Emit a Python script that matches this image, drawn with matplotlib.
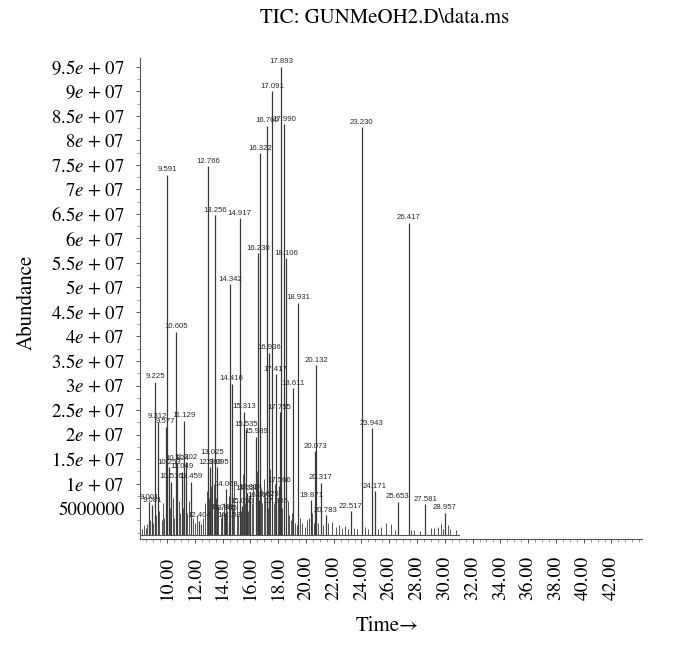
import numpy as np
import matplotlib
matplotlib.use("Agg")
import matplotlib.pyplot as plt

# labelled peaks: retention-time label, position on the time axis, height (x 1e6)
peak_labels = ["9.001", "9.081", "9.225", "9.312", "9.577", "9.591", "10.253", "10.516",
               "10.605", "10.824", "11.049", "11.129", "11.202", "11.459", "12.404", "12.766",
               "12.960", "13.025", "13.256", "13.095", "13.748", "13.885", "14.069", "14.158",
               "14.342", "14.416", "14.917", "15.050", "15.313", "15.535", "15.626", "15.814",
               "15.989", "16.096", "16.230", "16.322", "16.625", "16.760", "16.936", "17.091",
               "17.205", "17.417", "17.566", "17.755", "17.893", "17.990", "18.106", "18.611",
               "18.931", "19.871", "20.073", "20.132", "20.317", "20.783", "22.517", "23.230",
               "23.943", "24.171", "25.653", "26.417", "27.581", "28.957"]
peak_time = [8.70, 8.92, 9.14, 9.32, 9.89, 10.02, 10.12, 10.29,
             10.63, 10.72, 11.08, 11.23, 11.35, 11.71, 12.31, 12.95,
             13.08, 13.22, 13.46, 13.60, 13.98, 14.20, 14.23, 14.45,
             14.55, 14.65, 15.24, 15.40, 15.55, 15.67, 15.78, 16.00,
             16.39, 16.63, 16.58, 16.68, 17.21, 17.18, 17.35, 17.55,
             17.83, 17.83, 18.07, 18.10, 18.19, 18.45, 18.58, 19.10,
             19.46, 20.36, 20.67, 20.76, 21.05, 21.44, 23.22, 24.03,
             24.75, 24.97, 26.60, 27.39, 28.59, 30.00]
peak_height = [6.2, 5.6, 30.8, 22.6, 21.6, 73.0, 13.4, 10.4,
               41.0, 14.2, 12.4, 22.8, 14.4, 10.4, 2.4, 74.7,
               13.4, 15.3, 64.8, 13.4, 4.2, 4.0, 8.8, 2.4,
               50.7, 30.4, 64.1, 5.4, 24.7, 21.1, 8.0, 8.3,
               19.6, 6.6, 57.0, 77.4, 6.8, 83.0, 36.7, 90.0,
               5.4, 32.3, 9.6, 24.5, 95.0, 83.3, 56.0, 29.4,
               46.9, 6.6, 16.6, 34.2, 10.2, 3.6, 4.4, 82.7,
               21.3, 8.5, 6.3, 63.2, 5.8, 4.1]

# unlabelled small peaks (time, height x 1e6)
minor_time = [8.20, 8.32, 8.45, 8.58, 8.80, 9.02, 9.22, 9.45, 9.60, 9.72, 9.80,
              10.20, 10.40, 10.50, 10.85, 10.95, 11.15, 11.45, 11.55, 11.85, 12.00,
              12.15, 12.45, 12.60, 12.72, 12.85, 13.00, 13.15, 13.35, 13.52, 13.70,
              13.85, 14.10, 14.35, 14.45, 14.75, 14.85, 15.00, 15.12, 15.30, 15.45,
              15.60, 15.85, 15.92, 16.10, 16.20, 16.47, 16.75, 16.85, 16.95, 17.05,
              17.28, 17.40, 17.68, 17.75, 18.00, 18.30, 18.70, 18.80, 18.90, 19.00,
              19.20, 19.35, 19.60, 19.75, 19.90, 20.05, 20.20, 20.47, 20.58, 20.90,
              21.20, 21.62, 21.91, 22.15, 22.40, 22.60, 22.80, 23.00, 23.45, 23.70,
              24.25, 24.45, 25.20, 25.40, 25.80, 26.12, 26.40, 27.55, 27.80, 28.20,
              29.00, 29.24, 29.48, 29.73, 29.90, 30.20, 30.35, 30.80]
minor_height = [0.8, 1.5, 0.9, 1.8, 2.5, 2.0, 3.5, 4.5, 2.5, 6.0, 3.0,
                5.0, 7.0, 3.0, 6.5, 4.0, 5.0, 4.0, 6.5, 3.0, 2.0,
                3.5, 1.8, 3.0, 6.0, 8.5, 7.0, 9.5, 10.0, 7.0, 5.5,
                3.0, 6.0, 4.5, 7.5, 5.0, 10.5, 6.5, 3.5, 4.5, 12.0,
                6.0, 4.5, 7.5, 6.0, 10.0, 12.5, 9.0, 6.0, 11.0, 7.5,
                5.0, 13.0, 6.0, 10.0, 7.0, 5.0, 6.5, 3.5, 2.5, 4.0,
                2.0, 1.5, 3.0, 2.0, 1.2, 2.5, 3.0, 4.0, 2.0, 2.0,
                1.5, 2.0, 2.1, 1.2, 1.5, 1.0, 1.3, 0.8, 1.0, 0.8,
                1.2, 0.8, 0.7, 1.2, 2.0, 1.8, 0.6, 0.6, 0.5, 0.4,
                1.0, 1.0, 1.2, 1.7, 0.8, 1.5, 0.8, 0.5]

ytick_vals = [5e6, 1e7, 1.5e7, 2e7, 2.5e7, 3e7, 3.5e7, 4e7, 4.5e7, 5e7,
              5.5e7, 6e7, 6.5e7, 7e7, 7.5e7, 8e7, 8.5e7, 9e7, 9.5e7]
ytick_text = ["5000000", "1e + 07", "1.5e + 07", "2e + 07", "2.5e + 07", "3e + 07",
              "3.5e + 07", "4e + 07", "4.5e + 07", "5e + 07", "5.5e + 07", "6e + 07",
              "6.5e + 07", "7e + 07", "7.5e + 07", "8e + 07", "8.5e + 07", "9e + 07",
              "9.5e + 07"]
xtick_vals = list(range(10, 44, 2))

plt.rcParams['mathtext.fontset'] = 'stix'
plt.rcParams['font.family'] = 'STIXGeneral'

fig = plt.figure(figsize=(6.84, 6.47), dpi=100)
ax = fig.add_axes([140/684, 1 - 539/647, (642 - 140)/684, (539 - 58)/647])

base = -0.5e6
line_col = '#3a3a3a'
ax.vlines(minor_time, base, np.array(minor_height) * 1e6, color='#555555', lw=0.7)
ax.vlines(peak_time, base, np.array(peak_height) * 1e6, color=line_col, lw=0.9)
ax.plot([8.1, 31.0], [base, base], color='#555555', lw=0.8)

for lbl, t, h in zip(peak_labels, peak_time, peak_height):
    ax.annotate(lbl, (t, h * 1e6), xytext=(0, 1), textcoords='offset points',
                ha='center', va='bottom', fontsize=5.6, family='Liberation Sans',
                color='#2a2a2a')

ax.set_xlim(8.05, 44.2)
ax.set_ylim(-1.3e6, 96.8e6)

ax.set_xticks(xtick_vals)
ax.set_xticklabels([f"{v:.2f}" for v in xtick_vals], rotation=90, fontsize=14)
ax.set_xticks(np.arange(8.5, 44.1, 0.5), minor=True)
ax.set_yticks(ytick_vals)
ytl = [r"$" + s.replace(" + ", r"\ {+}\ ") + r"$" if "e" in s else s for s in ytick_text]
ax.set_yticklabels(ytl, fontsize=13.5)
ax.set_yticks(np.arange(0, 96.5e6, 2.5e6), minor=True)

ax.tick_params(axis='x', which='major', length=3, width=0.7, color='#555555', pad=9)
ax.tick_params(axis='x', which='minor', length=2, width=0.5, color='#777777')
ax.tick_params(axis='y', which='major', length=3, width=0.7, color='#555555', pad=8)
ax.tick_params(axis='y', which='minor', length=2, width=0.5, color='#777777')

for s in ['top', 'right']:
    ax.spines[s].set_visible(False)
for s in ['left', 'bottom']:
    ax.spines[s].set_color('#555555')
    ax.spines[s].set_linewidth(0.8)

fig.text(385/684, 1 - 18/647, "TIC: GUNMeOH2.D\\data.ms", ha='center', va='center', fontsize=15)
fig.text(27/684, 1 - 302/647, "Abundance", rotation=90, ha='center', va='center', fontsize=15)
fig.text(387/684, 1 - 626/647, "Time\u2192", ha='center', va='center', fontsize=15)

fig.savefig("out.png", dpi=100)
